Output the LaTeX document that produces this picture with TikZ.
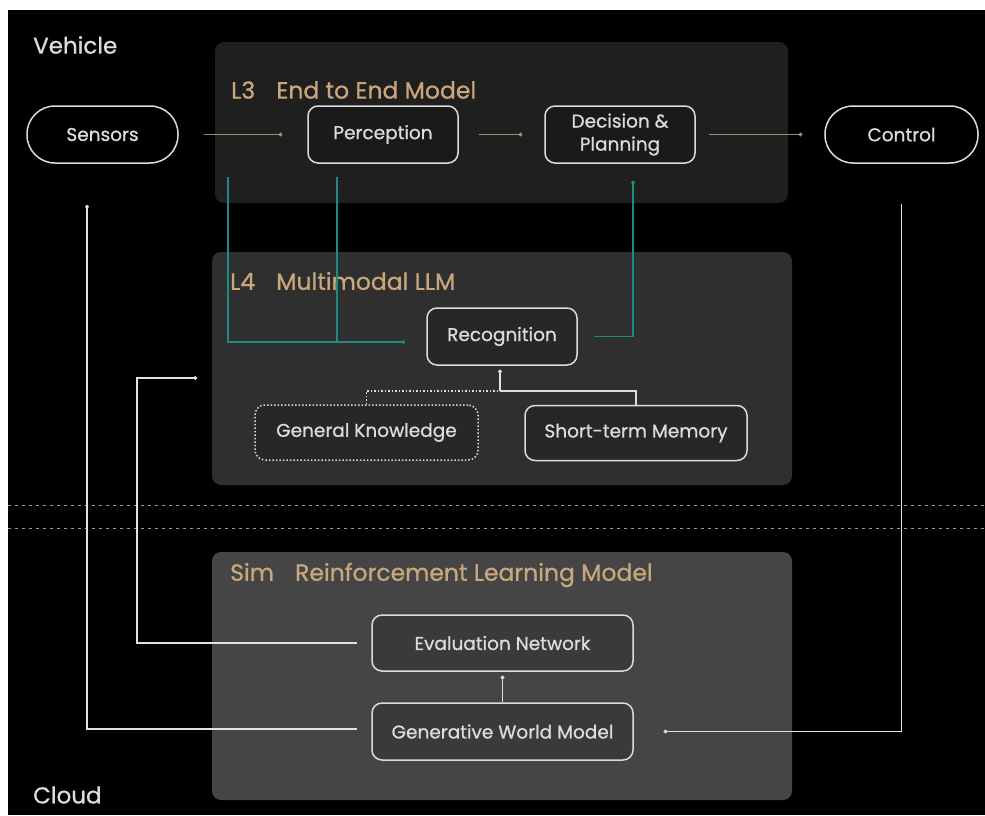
\documentclass[tikz,border=0pt]{standalone}
\usepackage{fontspec}
\setmainfont{Poppins}[RawFeature={embolden=0.8}]
\usetikzlibrary{arrows.meta,positioning}
\definecolor{lgray}{HTML}{DCDCDC}
\definecolor{tan}{HTML}{C9A77C}
\definecolor{tanline}{HTML}{A38C6C}
\definecolor{teal}{HTML}{1F8A7E}
\definecolor{panelA}{HTML}{1F1F1F}
\definecolor{panelB}{HTML}{2F2F2F}
\definecolor{panelC}{HTML}{454545}
\tikzset{
  box/.style={draw=lgray,line width=1.5pt,rounded corners=10pt,text=lgray,
    fill=black,fill opacity=0.15,text opacity=1,align=center,
    minimum height=57pt,inner sep=2pt,font=\fontsize{18.5}{23}\selectfont},
  pill/.style={box,rounded corners=28pt,fill opacity=0},
  title/.style={text=tan,anchor=west,inner sep=0pt,font=\fontsize{23.5}{26}\selectfont},
  side/.style={text=lgray,anchor=west,inner sep=0pt,font=\fontsize{23}{26}\selectfont},
  flow/.style={-{Circle[length=3.5pt]},tanline,line width=1.4pt},
  feed/.style={-{Circle[length=3.5pt]},teal,line width=1.3pt},
  back/.style={-{Circle[length=3.5pt]},lgray!85,line width=1.5pt},
  panel/.style={rounded corners=9pt},
}
\begin{document}
\begin{tikzpicture}[x=1pt,y=-1pt]
\useasboundingbox (0,0) rectangle (985,815);
\fill[black] (0,0) rectangle (985,815);
\fill[white] (0,0) rectangle (985,10);
\fill[white] (0,0) rectangle (8,815);
% panels
\fill[panelA,panel] (215,42) rectangle (788,203);
\fill[panelB,panel] (212,252) rectangle (792,485);
\fill[panelC,panel] (212,552) rectangle (792,800);
% separators
\draw[gray!80,line width=1pt,dash pattern=on 2.5pt off 4.5pt] (8,505) -- (985,505);
\draw[gray!80,line width=1pt,dash pattern=on 2.5pt off 4.5pt] (8,528) -- (985,528);
%
\node (vehicle) [side] at (33,45) {Vehicle};
\node (cloud) [side] at (33,795) {Cloud};
\node (l3) [title] at (231,90) {L3\hspace{0.9em}End to End Model};
\node (l4) [title] at (230,281) {L4\hspace{0.9em}Multimodal LLM};
\node (sim) [title] at (230,575) {Sim\hspace{0.9em}Reinforcement Learning Model};
%
\node (sens) [pill,minimum width=151pt] at (102.5,134.5) {Sensors};
\node (perc) [box,minimum width=150pt] at (383,134.5) {Perception};
\node (dec) [box,minimum width=150pt] at (620,134.5) {Decision \&\\Planning};
\node (ctrl) [pill,minimum width=153pt] at (901.5,134.5) {Control};
\node (recog) [box,minimum width=150pt] at (502,336.5) {Recognition};
\node (gk) [box,dash pattern=on 1.5pt off 2pt,minimum width=223pt,minimum height=55pt] at (366.5,432.5) {General Knowledge};
\node (stm) [box,minimum width=222pt,minimum height=55pt] at (636,433) {Short-term Memory};
\node (en) [box,minimum width=261pt,minimum height=56pt] at (502.5,643) {Evaluation Network};
\node (gwm) [box,minimum width=261pt] at (502.5,731.5) {Generative World Model};
%
\coordinate (join) at (500,391);
\coordinate (t1) at (228,177);
\coordinate (t2) at (337,177);
\coordinate (tin) at (405,342);
\coordinate (tout) at (633,336);
\coordinate (l4in) at (197,378);
\coordinate (sensin) at (87,205);
%
\draw[flow,shorten <=25pt,shorten >=25pt] (sens) -- (perc);
\draw[flow,shorten <=20pt,shorten >=22pt] (perc) -- (dec);
\draw[flow,shorten <=13pt,shorten >=22pt] (dec) -- (ctrl);
%
\draw[feed] (t1) |- (tin);
\draw[teal,line width=1.3pt] (t2) -- (t2 |- tin);
\draw[feed,shorten >=17pt] ([xshift=16pt]recog.east) -| ([xshift=13pt]dec.south);
%
\draw[lgray,line width=1.5pt,dash pattern=on 1.5pt off 2pt] (gk.north) |- (join);
\draw[lgray,line width=1.5pt] (stm.north) |- (join);
\draw[back,shorten >=4pt] (join) -- (join |- recog.south);
%
\draw[back,shorten >=4pt] (gwm.north) -- (en.south);
\draw[back] ([xshift=-14pt]en.west) -| (137,378) -- (l4in);
\draw[back] ([xshift=-14pt,yshift=2.5pt]gwm.west) -| (sensin);
\draw[back,shorten <=40pt,shorten >=30pt] (ctrl.south) |- (gwm.east);
\end{tikzpicture}
\end{document}
